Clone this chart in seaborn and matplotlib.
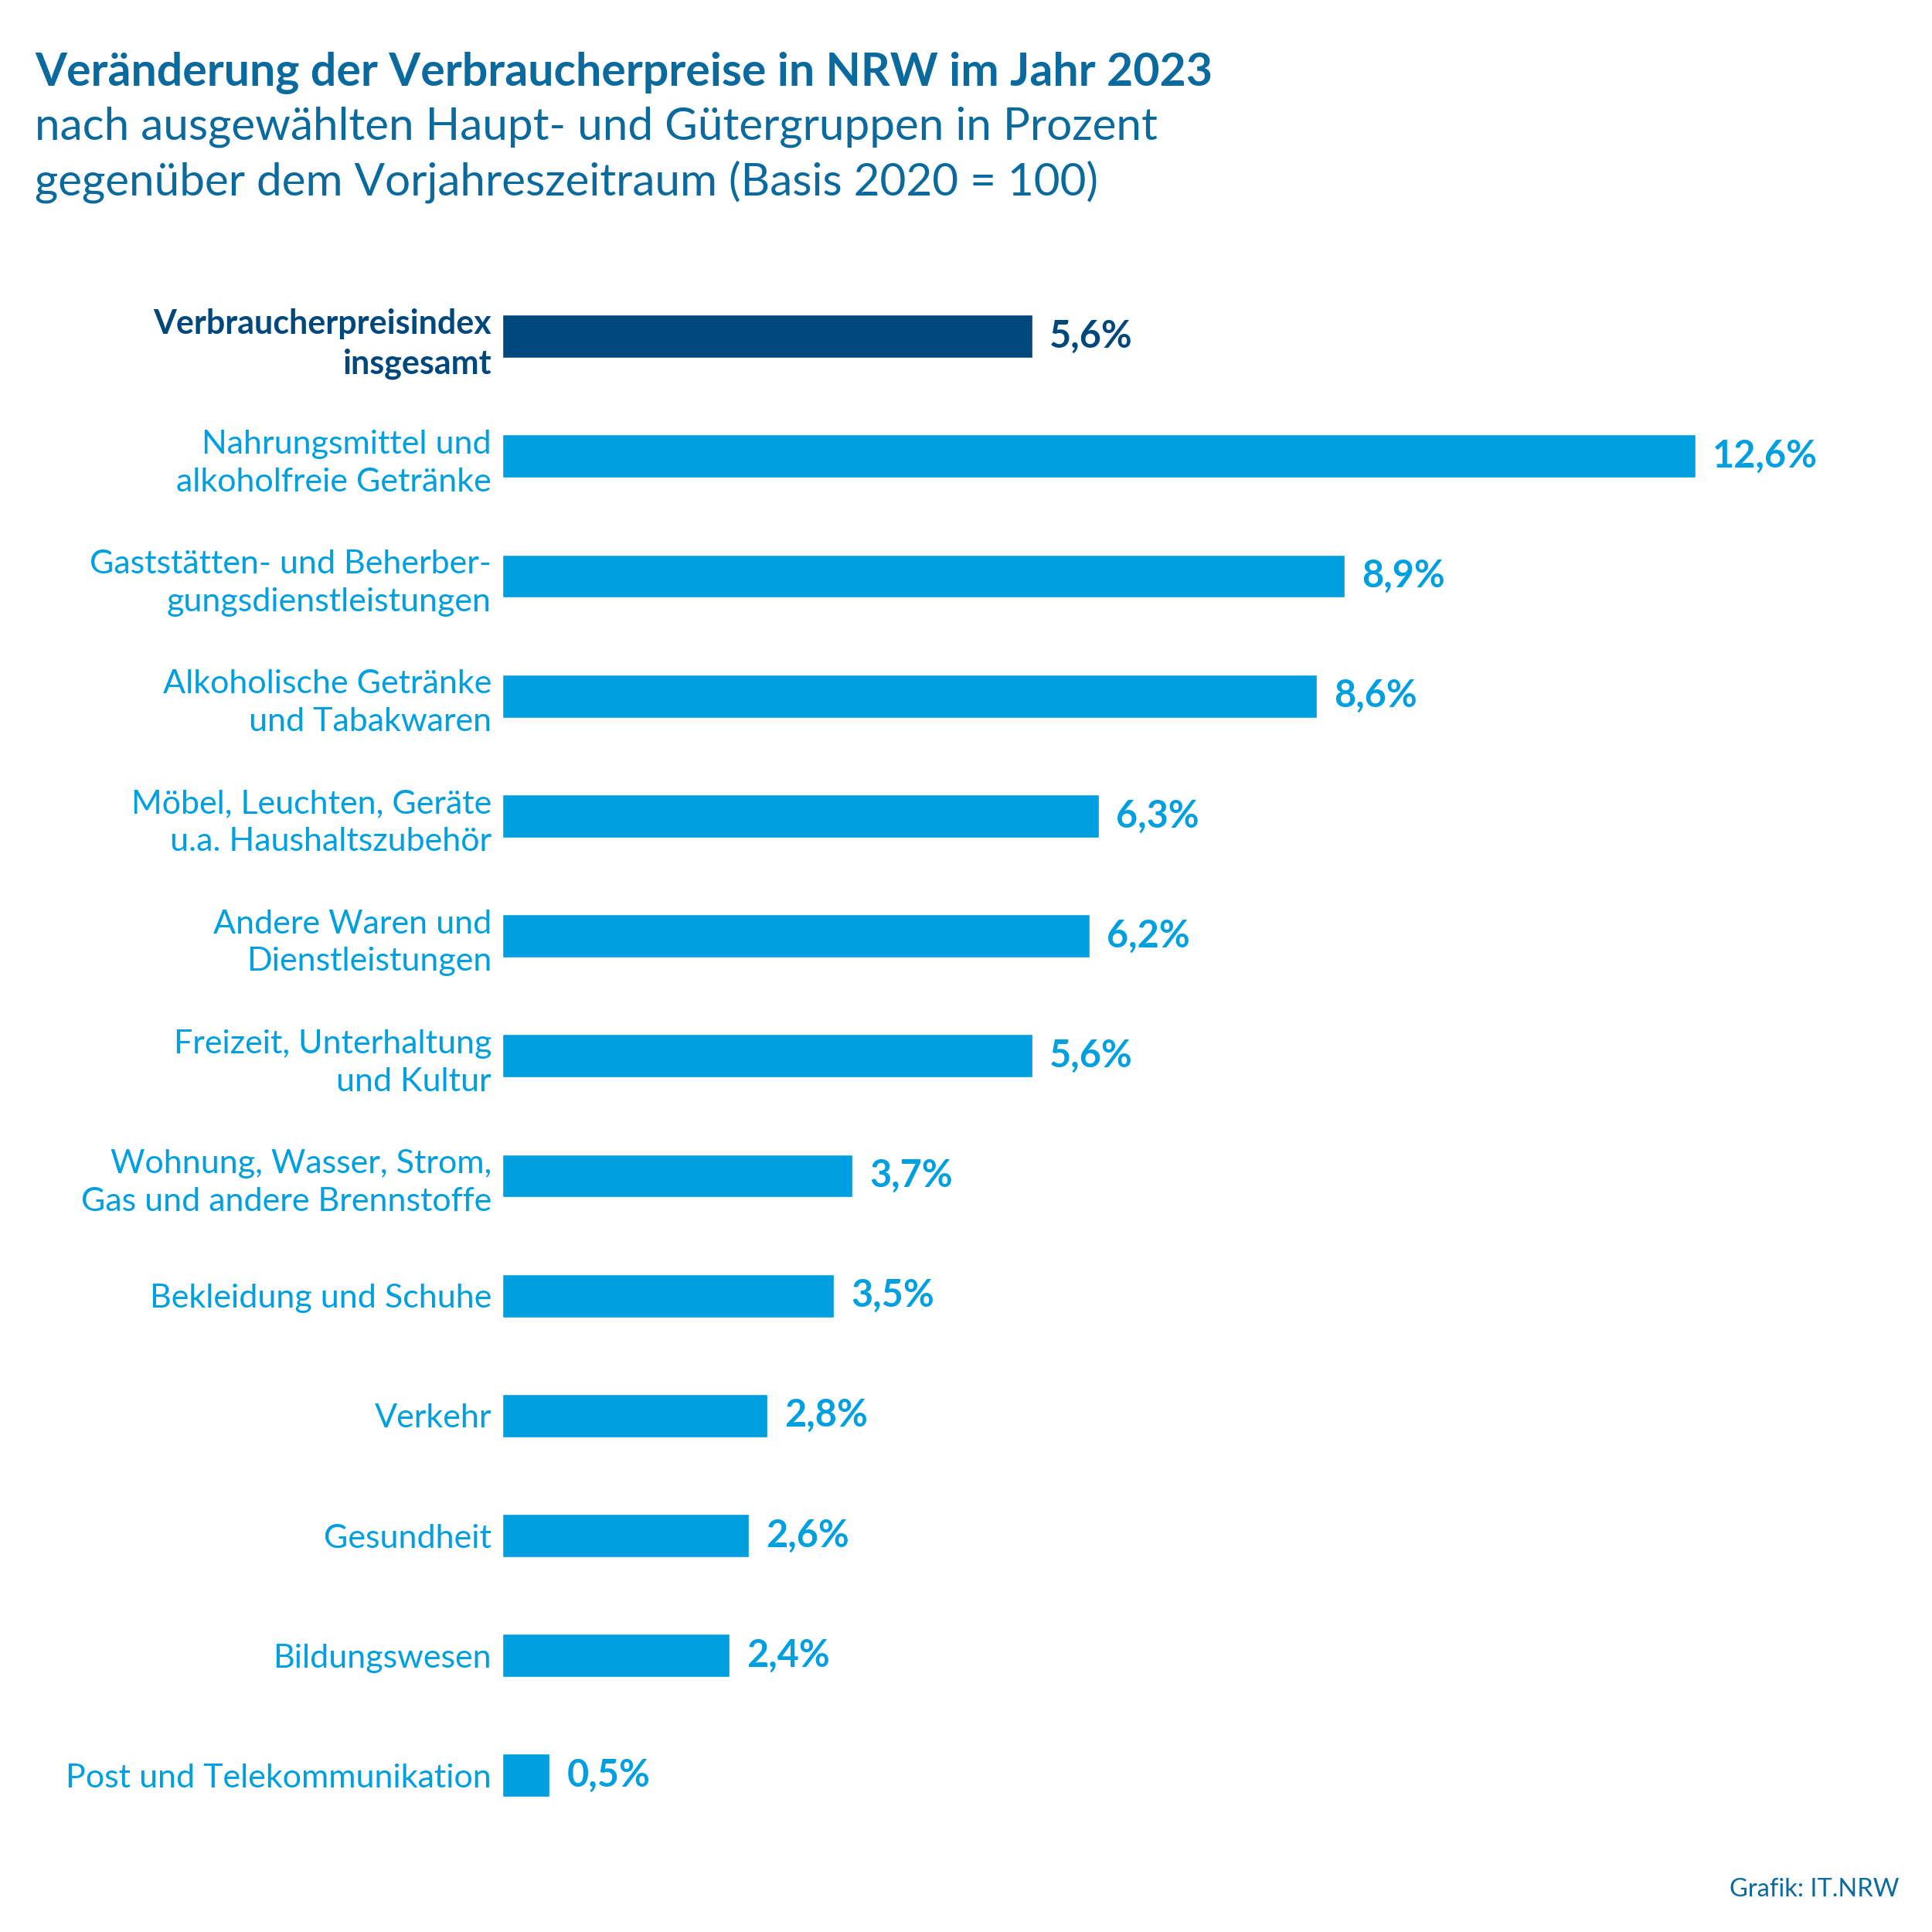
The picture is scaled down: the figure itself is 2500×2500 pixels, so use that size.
import matplotlib
matplotlib.use('Agg')
import matplotlib.pyplot as plt
import seaborn as sns
import pandas as pd

categories = [
    'Verbraucherpreisindex\ninsgesamt',
    'Nahrungsmittel und\nalkoholfreie Getränke',
    'Gaststätten- und Beherber-\ngungsdienstleistungen',
    'Alkoholische Getränke\nund Tabakwaren',
    'Möbel, Leuchten, Geräte\nu.a. Haushaltszubehör',
    'Andere Waren und\nDienstleistungen',
    'Freizeit, Unterhaltung\nund Kultur',
    'Wohnung, Wasser, Strom,\nGas und andere Brennstoffe',
    'Bekleidung und Schuhe',
    'Verkehr',
    'Gesundheit',
    'Bildungswesen',
    'Post und Telekommunikation',
]
values = [5.6, 12.6, 8.9, 8.6, 6.3, 6.2, 5.6, 3.7, 3.5, 2.8, 2.6, 2.4, 0.5]

dark = '#00477c'
light = '#009fdf'
title_col = '#0a6a9e'
colors = [dark] + [light] * (len(values) - 1)

df = pd.DataFrame({'cat': categories, 'val': values})

sns.set_style('white')
plt.rcParams['font.family'] = ['Lato', 'DejaVu Sans']

fig = plt.figure(figsize=(25, 25), dpi=100)
ax = fig.add_axes([0.26, 0.05, 0.686, 0.807])

sns.barplot(data=df, x='val', y='cat', hue='cat', palette=colors,
            legend=False, width=0.36, saturation=1, ax=ax)

ax.set_xlim(0, 14)
ax.set_ylim(len(values) - 0.5, -0.5)
ax.set_xlabel('')
ax.set_ylabel('')
ax.set_xticks([])
sns.despine(ax=ax, left=True, bottom=True)
ax.tick_params(axis='y', length=0, pad=10)

for lbl, c in zip(ax.get_yticklabels(), colors):
    lbl.set_color(c)
    lbl.set_fontsize(31)
    lbl.set_linespacing(1.35)
    if c == dark:
        lbl.set_fontweight('bold')

for cont, c in zip(ax.containers, colors):
    ax.bar_label(cont, labels=[f'{v:.1f}%'.replace('.', ',') for v in cont.datavalues],
                 padding=16, fontsize=35, fontweight='bold', color=c)

fig.text(0.018, 0.973, 'Veränderung der Verbraucherpreise in NRW im Jahr 2023',
         fontsize=42.5, fontweight='bold', color=title_col, va='top', ha='left')
fig.text(0.018, 0.945, 'nach ausgewählten Haupt- und Gütergruppen in Prozent',
         fontsize=42, color=title_col, va='top', ha='left')
fig.text(0.018, 0.917, 'gegenüber dem Vorjahreszeitraum (Basis 2020 = 100)',
         fontsize=42, color=title_col, va='top', ha='left')
fig.text(0.983, 0.022, 'Grafik: IT.NRW', fontsize=23.5, color=title_col,
         ha='right', va='center')

fig.savefig('out.png', dpi=100)
